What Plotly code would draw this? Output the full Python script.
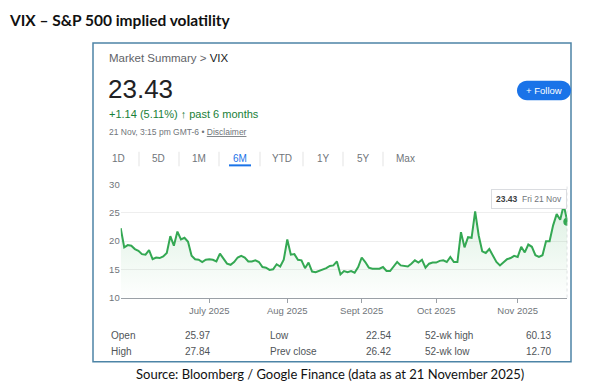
import pandas as pd
import plotly.graph_objects as go

# ---------------- data ----------------
title_text = "VIX – S&P 500 implied volatility"
source_text = "Source: Bloomberg / Google Finance (data as at 21 November 2025)"
breadcrumb = "Market Summary >"
ticker = "VIX"
last_price = "23.43"
change_text = "+1.14 (5.11%)"
period_text = "past 6 months"
timestamp_text = "21 Nov, 3:15 pm GMT-6"
disclaimer_text = "Disclaimer"
range_buttons = ["1D", "5D", "1M", "6M", "YTD", "1Y", "5Y", "Max"]
active_range = "6M"
follow_text = "+ Follow"
tooltip_value = "23.43"
tooltip_date = "Fri 21 Nov"

start_date = "2025-05-23"
end_date = "2025-11-21"
market_holidays = ["2025-05-26", "2025-06-19", "2025-07-04", "2025-09-01"]

vix_close = [
    22.3, 18.9, 19.3, 19.2, 18.6, 18.3, 17.7, 17.6, 18.4, 16.8,
    17.1, 17.0, 17.3, 17.9, 20.9, 19.2, 21.7, 20.3, 20.6, 19.9,
    17.4, 16.8, 16.7, 16.3, 16.7, 16.8, 16.7, 16.4, 17.8, 16.8,
    16.0, 15.8, 16.3, 17.1, 17.4, 17.1, 16.4, 16.4, 16.6, 16.3,
    15.4, 15.3, 14.9, 15.0, 15.9, 15.5, 16.7, 20.3, 17.6, 17.7,
    16.7, 16.6, 15.2, 16.2, 14.6, 14.5, 14.7, 14.9, 15.2, 15.6,
    15.7, 16.4, 14.1, 14.7,
    14.5, 14.7, 14.4, 15.4,
    17.1, 16.3, 15.3, 15.1, 15.1, 15.1, 15.4, 14.7, 14.7, 15.5,
    16.3, 15.7, 15.6, 15.5, 16.0, 16.6, 16.2, 16.7, 15.3, 16.0,
    16.2, 16.2, 16.5, 16.6, 16.3, 17.2, 16.3, 16.3,
    21.6, 18.9, 20.7, 20.6, 25.3,
    21.0, 18.2, 17.9, 18.6, 17.5, 16.3, 15.7, 16.3, 16.8, 17.0,
    17.4, 17.2, 19.0, 18.0, 19.4, 19.0, 17.5, 17.2, 17.5, 20.0,
    20.0, 22.8, 24.8, 23.8, 26.42, 23.43,
]

month_tick_dates = ["2025-07-01", "2025-08-01", "2025-09-02", "2025-10-01", "2025-11-03"]
month_tick_labels = ["July 2025", "Aug 2025", "Sept 2025", "Oct 2025", "Nov 2025"]
y_ticks = [10, 15, 20, 25, 30]

stat_columns = [
    [("Open", "25.97"), ("High", "27.84")],
    [("Low", "22.54"), ("Prev close", "26.42")],
    [("52-wk high", "60.13"), ("52-wk low", "12.70")],
]

# trading days
hol = set(pd.to_datetime(market_holidays))
trade_dates = [d for d in pd.bdate_range(start_date, end_date) if d not in hol]
n = min(len(trade_dates), len(vix_close))
trade_dates = trade_dates[:n]
vix_close = vix_close[:n]

# ---------------- layout helpers ----------------
W, H = 597, 389
def px(x):
    return x / W
def py(y):
    return 1 - y / H

SANS = "Liberation Sans, Arial, sans-serif"
GRAY = "#70757a"
DARK = "#202124"
GREEN = "#34a853"
BLUE = "#1a73e8"

fig = go.Figure()

fig.add_trace(go.Scatter(
    x=trade_dates, y=vix_close, mode="lines",
    line=dict(color=GREEN, width=2),
    fill="tozeroy",
    fillgradient=dict(type="vertical", start=10, stop=26,
                      colorscale=[[0, "rgba(52,168,83,0)"], [1, "rgba(52,168,83,0.16)"]]),
    hoverinfo="skip", showlegend=False,
))
fig.add_trace(go.Scatter(
    x=[trade_dates[-1]], y=[vix_close[-1]], mode="markers",
    marker=dict(color=GREEN, size=8), hoverinfo="skip", showlegend=False,
))

fig.update_layout(
    width=W, height=H, autosize=False,
    margin=dict(l=0, r=0, t=0, b=0),
    paper_bgcolor="white", plot_bgcolor="white",
    font=dict(family=SANS, color=GRAY),
    xaxis=dict(
        domain=[px(120.7), px(567.3)],
        range=[trade_dates[0], trade_dates[-1]],
        rangebreaks=[dict(bounds=["sat", "mon"]), dict(values=market_holidays)],
        tickvals=month_tick_dates, ticktext=month_tick_labels,
        ticks="outside", ticklen=4, tickcolor="#9aa0a6",
        showline=True, linecolor="#9aa0a6", linewidth=1,
        showgrid=False, zeroline=False,
        tickfont=dict(size=9.5, color=GRAY, family=SANS),
    ),
    yaxis=dict(
        domain=[py(300), py(184)],
        range=[10, 30],
        tickvals=y_ticks,
        showgrid=True, gridcolor="#eeeeee", gridwidth=1,
        zeroline=False, showline=False, ticks="",
        tickfont=dict(size=9.5, color=GRAY, family=SANS),
    ),
)

shapes = []
# outer card
shapes.append(dict(type="rect", xref="paper", yref="paper",
                   x0=px(93), x1=px(571), y0=py(366), y1=py(38),
                   line=dict(color="#4d84a6", width=1.5), fillcolor="rgba(0,0,0,0)", layer="below"))
# tab separators
for sx in [139, 179, 219, 260, 303, 343, 383]:
    shapes.append(dict(type="line", xref="paper", yref="paper",
                       x0=px(sx), x1=px(sx), y0=py(150), y1=py(165),
                       line=dict(color="#e3e3e3", width=1)))
# active tab underline
shapes.append(dict(type="line", xref="paper", yref="paper",
                   x0=px(229), x1=px(251), y0=py(164), y1=py(164),
                   line=dict(color=BLUE, width=2)))

# follow pill
def pill(x0, x1, y0, y1):
    r = (y1 - y0) / 2
    k = 0.5523 * r
    ym = (y0 + y1) / 2
    def p(x, y):
        return f"{px(x):.5f},{py(y):.5f}"
    return (f"M {p(x0 + r, y0)} L {p(x1 - r, y0)} "
            f"C {p(x1 - r + k, y0)} {p(x1, ym - k)} {p(x1, ym)} "
            f"C {p(x1, ym + k)} {p(x1 - r + k, y1)} {p(x1 - r, y1)} "
            f"L {p(x0 + r, y1)} "
            f"C {p(x0 + r - k, y1)} {p(x0, ym + k)} {p(x0, ym)} "
            f"C {p(x0, ym - k)} {p(x0 + r - k, y0)} {p(x0 + r, y0)} Z")
shapes.append(dict(type="path", xref="paper", yref="paper",
                   path=pill(517, 571, 77, 97), fillcolor=BLUE,
                   line=dict(color=BLUE, width=0)))
# hover line at last point
shapes.append(dict(type="line", xref="x", yref="y domain",
                   x0=trade_dates[-1], x1=trade_dates[-1], y0=0, y1=0.99,
                   line=dict(color="#bdc1c6", width=1, dash="dot")))
fig.update_layout(shapes=shapes)

ann = []
def text(x, y, s, size, color=DARK, family=SANS, xanchor="left", **kw):
    ann.append(dict(xref="paper", yref="paper", x=px(x), y=py(y), text=s,
                    showarrow=False, xanchor=xanchor, yanchor="middle",
                    font=dict(size=size, color=color, family=family), **kw))

text(7, 14.5, f"<b>{title_text}</b>", 15.5, "#111111", "Lato, sans-serif")
text(107, 54, f"{breadcrumb} <span style='color:{DARK}'>{ticker}</span>", 11.5, "#5f6368")
text(106, 85, last_price, 26, DARK)
text(107, 111, f"{change_text} <b>↑</b> {period_text}", 11, "#188038")
text(107, 130, f"{timestamp_text} • <u>{disclaimer_text}</u>", 8.5, GRAY)

tab_centers = [118, 158, 199, 240, 282, 323, 363, 405]
for cx, lab in zip(tab_centers, range_buttons):
    text(cx, 157, lab, 10, BLUE if lab == active_range else GRAY, xanchor="center")

text(544, 87, follow_text, 9.5, "white", xanchor="center")

# tooltip
ann.append(dict(xref="x", yref="paper", x=trade_dates[-1], y=py(198.5),
                text=f"<b>{tooltip_value}</b>  <span style='color:{GRAY}'>{tooltip_date}</span>",
                showarrow=False, xanchor="right", yanchor="middle",
                font=dict(size=8.5, color="#3c4043", family=SANS),
                bgcolor="white", bordercolor="#dadce0", borderwidth=1, borderpad=4))

# stats table
label_x = [109, 268, 423]
value_x = [212, 393, 553]
row_y = [339, 356]
for ci, col in enumerate(stat_columns):
    for ri, (lab, val) in enumerate(col):
        text(label_x[ci], row_y[ri], lab, 10, "#505458")
        text(value_x[ci], row_y[ri], val, 10, "#505458", xanchor="right")

text(329.5, 379, source_text, 13, "#111111", "Lato, sans-serif", xanchor="center")

fig.update_layout(annotations=ann)
fig.write_html("out.html", config={"displayModeBar": False},
               post_script="document.body.style.margin='0';document.body.style.padding='0';")
